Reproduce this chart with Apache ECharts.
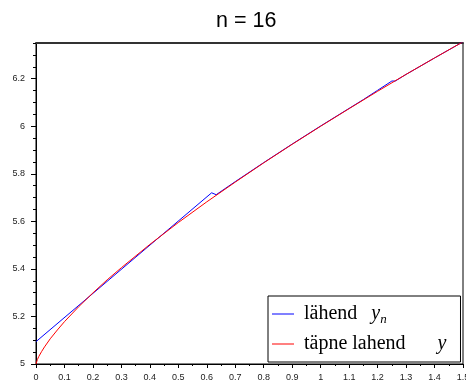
<!DOCTYPE html>
<html>
<head>
<meta charset="utf-8">
<script src="https://cdn.jsdelivr.net/npm/echarts@6/dist/echarts.min.js"></script>
<style>
  html, body { margin: 0; padding: 0; background: #fff; }
  #chart { width: 466px; height: 382px; }
</style>
</head>
<body>
<div id="chart"></div>
<script>
// Exact solution y(x)
const exactX = [0, 0.005, 0.01, 0.02, 0.03, 0.05, 0.075, 0.1, 0.15, 0.2, 0.25, 0.3, 0.4, 0.5, 0.6, 0.7, 0.8, 0.9, 1.0, 1.1, 1.2, 1.3, 1.4, 1.5];
const exactY = [5.0, 5.019, 5.032, 5.053, 5.072, 5.106, 5.143, 5.178, 5.241, 5.299, 5.354, 5.405, 5.503, 5.595, 5.682, 5.765, 5.846, 5.924, 6.0, 6.074, 6.147, 6.218, 6.287, 6.355];

// Approximation y_n (n = 16)
const approxX = [0, 0.617, 0.633, 0.7, 0.8, 0.9, 1.0, 1.1, 1.15, 1.2, 1.25, 1.262, 1.3, 1.4, 1.5];
const approxY = [5.094, 5.72, 5.712, 5.767, 5.847, 5.925, 6.001, 6.075, 6.112, 6.151, 6.19, 6.19, 6.218, 6.287, 6.355];

const xTicks = { min: 0, max: 1.5, step: 0.1 };
const yTicks = { min: 5, max: 6.35, step: 0.2, minorStep: 0.05 };

const titleText = 'n = 16';
const approxName = 'lähend yn';
const exactName = 'täpne lahend y';

const pairs = (xs, ys) => xs.map((x, i) => [x, ys[i]]);

const labelFont = 'Liberation Sans, Arial, sans-serif';
const serif = 'Liberation Serif, Times New Roman, serif';

const chart = echarts.init(document.getElementById('chart'), null, { renderer: 'canvas' });

chart.setOption({
  animation: false,
  backgroundColor: '#fff',
  title: {
    text: titleText,
    left: 216,
    top: 10,
    padding: 0,
    textStyle: { fontFamily: labelFont, fontSize: 21.5, fontWeight: 'normal', color: '#000', lineHeight: 22 }
  },
  grid: {
    left: 36, right: 3, top: 43, bottom: 18,
    containLabel: false,
    outerBoundsMode: 'none',
    show: true, borderColor: '#000', borderWidth: 1, backgroundColor: 'transparent'
  },
  legend: {
    orient: 'vertical',
    left: 268,
    top: 296,
    padding: [8, 14, 8, 4],
    itemGap: 8,
    itemWidth: 22,
    itemHeight: 1,
    icon: 'rect',
    backgroundColor: '#fff',
    borderColor: '#000',
    borderWidth: 1,
    borderRadius: 0,
    data: [approxName, exactName],
    formatter: function (name) {
      if (name === approxName) return '{t|lähend}{v1|y}{s|n}';
      return '{t|täpne lahend}{v2|y}';
    },
    textStyle: {
      padding: [0, 0, 0, 5],
      rich: {
        t: { fontFamily: serif, fontSize: 20, color: '#000', lineHeight: 24 },
        v1: { fontFamily: serif, fontSize: 20, fontStyle: 'italic', color: '#000', lineHeight: 24, padding: [0, 0, 0, 14] },
        v2: { fontFamily: serif, fontSize: 20, fontStyle: 'italic', color: '#000', lineHeight: 24, padding: [0, 0, 0, 32] },
        s: { fontFamily: serif, fontSize: 13, fontStyle: 'italic', color: '#000', lineHeight: 13, verticalAlign: 'bottom' }
      }
    }
  },
  xAxis: [
    {
      type: 'value',
      position: 'bottom',
      min: xTicks.min, max: xTicks.max, interval: xTicks.step,
      axisLine: { show: true, onZero: false, lineStyle: { color: '#000', width: 1 } },
      axisTick: { show: true, length: 4, lineStyle: { color: '#000' } },
      minorTick: { show: true, splitNumber: 2, length: 2, lineStyle: { color: '#000' } },
      splitLine: { show: false },
      axisLabel: { fontFamily: labelFont, fontSize: 9, color: '#222', margin: 9 }
    },
    {
      type: 'value',
      position: 'top',
      min: xTicks.min, max: xTicks.max,
      axisLine: { show: true, onZero: false, lineStyle: { color: '#333', width: 2 } },
      axisTick: { show: false },
      axisLabel: { show: false },
      splitLine: { show: false }
    }
  ],
  yAxis: [
    {
      type: 'value',
      position: 'left',
      min: yTicks.min, max: yTicks.max, interval: yTicks.step,
      axisLine: { show: true, onZero: false, lineStyle: { color: '#000', width: 1 } },
      axisTick: { show: true, length: 5, lineStyle: { color: '#000' } },
      splitLine: { show: false },
      axisLabel: { fontFamily: labelFont, fontSize: 9, color: '#222', margin: 11, showMaxLabel: false }
    },
    {
      type: 'value',
      position: 'left',
      min: yTicks.min, max: yTicks.max, interval: yTicks.minorStep,
      axisLine: { show: false },
      axisTick: { show: true, length: 3, lineStyle: { color: '#000' } },
      axisLabel: { show: false },
      splitLine: { show: false }
    }
  ],
  series: [
    {
      name: approxName,
      type: 'line',
      xAxisIndex: 0, yAxisIndex: 0,
      data: pairs(approxX, approxY),
      symbol: 'none',
      lineStyle: { color: '#0000ff', width: 1 },
      itemStyle: { color: '#0000ff' }
    },
    {
      name: exactName,
      type: 'line',
      xAxisIndex: 0, yAxisIndex: 0,
      data: pairs(exactX, exactY),
      symbol: 'none',
      lineStyle: { color: '#ff0000', width: 1 },
      itemStyle: { color: '#ff0000' }
    }
  ]
});
</script>
</body>
</html>
